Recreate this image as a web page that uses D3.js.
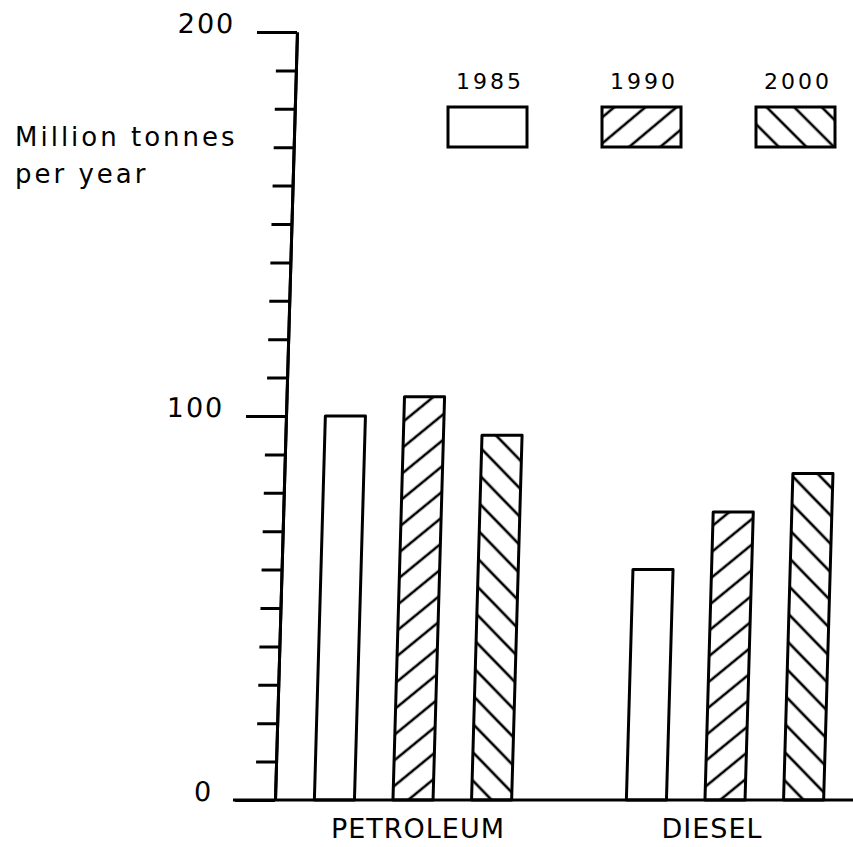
<!DOCTYPE html>
<html>
<head>
<meta charset="utf-8">
<script src="https://cdn.jsdelivr.net/npm/d3@7"></script>
<style>
  html, body { margin: 0; padding: 0; background: #fff; }
  svg { display: block; }
  text { font-family: "DejaVu Sans", sans-serif; fill: #000; }
</style>
</head>
<body>
<div id="chart"></div>
<script>
const categories = ["PETROLEUM", "DIESEL"];
const years = ["1985", "1990", "2000"];
const petroleum = [100, 105, 95];
const diesel = [60, 75, 85];
const yMajorTicks = [0, 100, 200];
const yMinorTicks = d3.range(0, 201, 10);

const width = 853, height = 847;
const baseY = 800, topY = 32, axisX = 275;

const svg = d3.select("#chart").append("svg")
  .attr("width", width)
  .attr("height", height);

// hatch patterns
const defs = svg.append("defs");
function hatch(id, angle, gap) {
  const p = defs.append("pattern")
    .attr("id", id)
    .attr("patternUnits", "userSpaceOnUse")
    .attr("width", gap)
    .attr("height", gap)
    .attr("patternTransform", `rotate(${angle})`);
  p.append("line")
    .attr("x1", gap / 2).attr("y1", -1)
    .attr("x2", gap / 2).attr("y2", gap + 1)
    .attr("stroke", "#000")
    .attr("stroke-width", 2.6);
}
hatch("h1990", 50, 20);
hatch("h2000", -45, 19.5);
const fills = { "1985": "#fff", "1990": "url(#h1990)", "2000": "url(#h2000)" };

const rows = categories.map((c, i) => ({
  cat: c,
  values: years.map((yr, j) => ({ year: yr, value: [petroleum, diesel][i][j] }))
}));

const y = d3.scaleLinear().domain([0, 200]).range([baseY, topY]);
const x0 = d3.scaleBand().domain(categories).range([257, 881]).padding(0);
const x1 = d3.scaleBand().domain(years).range([0, x0.bandwidth()])
  .paddingInner(0.49).paddingOuter(0.73);

// the scanned original leans a little to the right
const plot = svg.append("g")
  .attr("transform", `translate(0,${baseY}) skewX(-1.64) translate(0,${-baseY})`);

// bars
plot.selectAll("g.group")
  .data(rows)
  .join("g")
  .attr("class", "group")
  .attr("transform", (d) => `translate(${x0(d.cat)},0)`)
  .selectAll("rect")
  .data((d) => d.values)
  .join("rect")
  .attr("x", (d) => x1(d.year))
  .attr("y", (d) => y(d.value))
  .attr("width", x1.bandwidth())
  .attr("height", (d) => baseY - y(d.value))
  .attr("fill", (d) => fills[d.year])
  .attr("stroke", "#000")
  .attr("stroke-width", 3)
  .attr("stroke-linejoin", "round");

// minor ticks
const minor = plot.append("g")
  .attr("transform", `translate(${axisX},0)`)
  .call(d3.axisLeft(y).tickValues(yMinorTicks).tickSize(20).tickSizeOuter(0).tickFormat(""));

// major ticks with labels
const major = plot.append("g")
  .attr("transform", `translate(${axisX},0)`)
  .call(d3.axisLeft(y).tickValues(yMajorTicks).tickSize(40).tickSizeOuter(0).tickPadding(22));

[minor, major].forEach((g) => {
  g.selectAll("path, line").attr("stroke", "#000").attr("stroke-width", 3);
});
major.selectAll("text")
  .attr("dy", 0)
  .attr("y", 0)
  .style("font-size", "27px")
  .style("letter-spacing", "2px")
  .attr("font-family", null);

// baseline
plot.append("line")
  .attr("x1", 233).attr("x2", width + 5)
  .attr("y1", baseY).attr("y2", baseY)
  .attr("stroke", "#000")
  .attr("stroke-width", 3);

// category labels (DIESEL sits a bit left of its bars in the original)
svg.selectAll("text.cat")
  .data(categories)
  .join("text")
  .attr("class", "cat")
  .attr("x", (d) => x0(d) + x0.bandwidth() / 2)
  .attr("dx", (d, i) => (i === 0 ? 5 : -13))
  .attr("y", 838)
  .attr("text-anchor", "middle")
  .style("font-size", "27px")
  .style("letter-spacing", "1px")
  .text((d) => d);

// axis title
const title = svg.append("text")
  .style("font-size", "26px")
  .style("letter-spacing", "3px");
title.append("tspan").attr("x", 15).attr("y", 146).text("Million tonnes");
title.append("tspan").attr("x", 15).attr("y", 183).text("per year");

// legend
const legend = svg.append("g").attr("transform", "translate(448,0)");
const item = legend.selectAll("g")
  .data(years)
  .join("g")
  .attr("transform", (d, i) => `translate(${i * 154},0)`);
item.append("rect")
  .attr("x", 0).attr("y", 107)
  .attr("width", 79).attr("height", 40)
  .attr("fill", (d) => fills[d])
  .attr("stroke", "#000")
  .attr("stroke-width", 3);
item.append("text")
  .attr("x", 42)
  .attr("y", 89)
  .attr("text-anchor", "middle")
  .style("font-size", "22px")
  .style("letter-spacing", "3px")
  .text((d) => d);
</script>
</body>
</html>
